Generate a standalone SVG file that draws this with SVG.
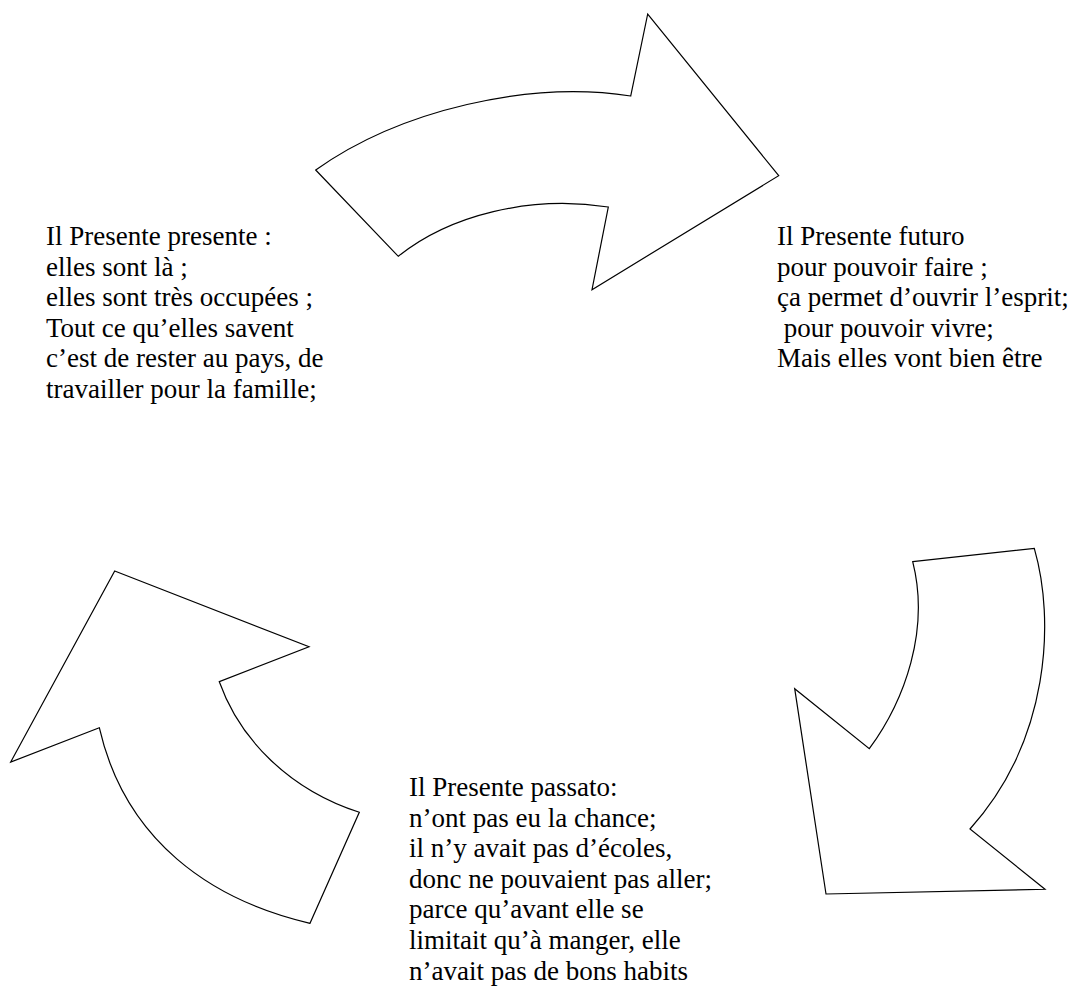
<svg xmlns="http://www.w3.org/2000/svg" width="1077" height="989" viewBox="0 0 1077 989">
<style>
.arrow{fill:#fff;stroke:#000;stroke-width:1.2;stroke-linejoin:miter}
.t{font-family:"Liberation Serif","Times New Roman",serif;font-size:27px;fill:#000}
</style>
<rect width="1077" height="989" fill="#fff"/>
<g id="connectors">
<path id="arrow-top" class="arrow" d="M315.7,170 C400,110 530,80 630.7,96 L647.7,14 L778.7,175.7 L592,289.7 L608.3,207 C530,195 450,215 398.3,256.3 Z"/>
<path id="arrow-right" class="arrow" d="M912.7,561.7 L1034.3,548.3 C1055,620 1050,740 970,829 L1045,889.3 L826,894 L794.7,688.7 L869.3,748.7 C905,700 930,630 912.7,561.7 Z"/>
<path id="arrow-left" class="arrow" d="M114.7,571 L309,646.7 L219.3,681.7 C240,740 290,790 359.3,812.3 L310,923.3 C210,900 125,840 99.3,727.7 L10.7,762 Z"/>
</g>
<g id="node-presente">
<text class="t" x="46" y="245">Il Presente presente :</text>
<text class="t" x="46" y="275.6">elles sont là ;</text>
<text class="t" x="46" y="306.2">elles sont très occupées ;</text>
<text class="t" x="46" y="336.8">Tout ce qu’elles savent</text>
<text class="t" x="46" y="367.4">c’est de rester au pays, de</text>
<text class="t" x="46" y="398">travailler pour la famille;</text>
</g>
<g id="node-futuro">
<text class="t" x="777" y="245">Il Presente futuro</text>
<text class="t" x="777" y="275.6">pour pouvoir faire ;</text>
<text class="t" x="777" y="306.2">ça permet d’ouvrir l’esprit;</text>
<text class="t" x="777" y="336.8" xml:space="preserve"> pour pouvoir vivre;</text>
<text class="t" x="777" y="367.4">Mais elles vont bien être</text>
</g>
<g id="node-passato">
<text class="t" x="409" y="796">Il Presente passato:</text>
<text class="t" x="409" y="826.6">n’ont pas eu la chance;</text>
<text class="t" x="409" y="857.2">il n’y avait pas d’écoles,</text>
<text class="t" x="409" y="887.8">donc ne pouvaient pas aller;</text>
<text class="t" x="409" y="918.4">parce qu’avant elle se</text>
<text class="t" x="409" y="949">limitait qu’à manger, elle</text>
<text class="t" x="409" y="979.6">n’avait pas de bons habits</text>
</g>
</svg>
